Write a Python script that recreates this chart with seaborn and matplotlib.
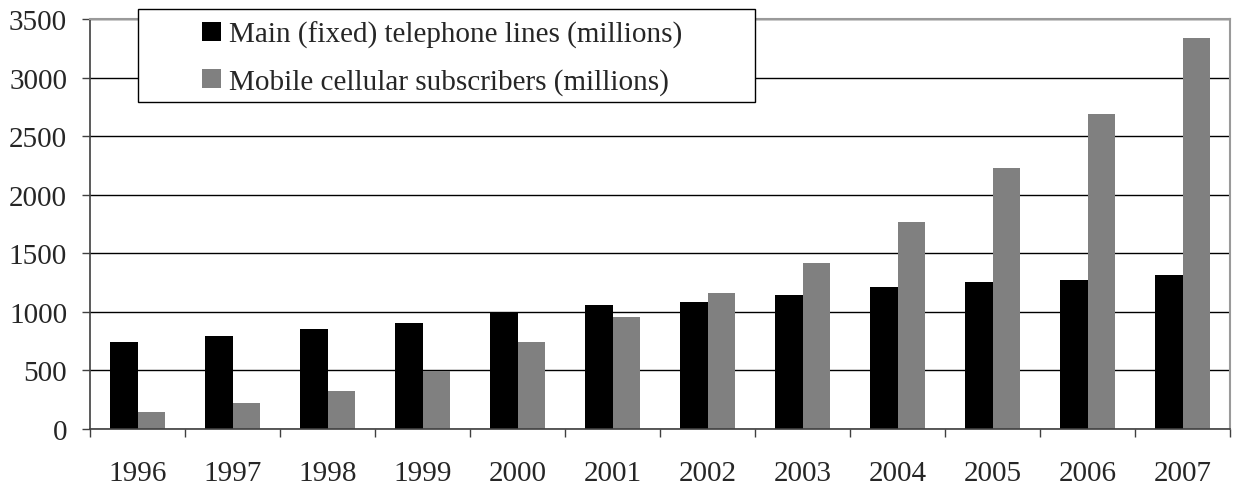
import matplotlib
matplotlib.use("Agg")
import matplotlib.pyplot as plt
import seaborn as sns
import pandas as pd
import numpy as np
from matplotlib.patches import Rectangle, Patch

# data (millions)
years = ['1996', '1997', '1998', '1999', '2000', '2001',
         '2002', '2003', '2004', '2005', '2006', '2007']
fixed_lines = [741, 792, 852, 903, 990, 1055, 1088, 1140, 1208, 1259, 1268, 1311]
mobile_subs = [143, 220, 322, 495, 740, 953, 1165, 1413, 1763, 2225, 2687, 3336]
series_names = ['Main (fixed) telephone lines (millions)',
                'Mobile cellular subscribers (millions)']
series_colors = ['#000000', '#808080']
y_ticks = [0, 500, 1000, 1500, 2000, 2500, 3000, 3500]

df = pd.DataFrame({
    'year': years * 2,
    'value': fixed_lines + mobile_subs,
    'series': [series_names[0]] * len(years) + [series_names[1]] * len(years),
})

sns.set_style('white')
plt.rcParams['font.family'] = ['Liberation Serif', 'DejaVu Serif']
FS = 21

W, H = 1233, 485
fig = plt.figure(figsize=(W / 100, H / 100), dpi=100)
ax = fig.add_axes([90 / W, 1 - 430 / H, (1230 - 90) / W, (430 - 20) / H])

sns.barplot(data=df, x='year', y='value', hue='series', order=years,
            hue_order=series_names, palette=series_colors, width=0.58,
            saturation=1, edgecolor='none', linewidth=0, ax=ax, legend=False)

ax.set_xlim(-0.5, len(years) - 0.5)
ax.set_ylim(0, 3500)
ax.set_yticks(y_ticks)
ax.set_yticklabels([str(t) for t in y_ticks])
ax.set_xlabel('')
ax.set_ylabel('')

# ticks at category boundaries, labels at centres
ax.set_xticks(np.arange(-0.5, len(years), 1.0))
ax.set_xticklabels([''] * (len(years) + 1))
ax.set_xticks(np.arange(len(years)), minor=True)
ax.set_xticklabels(years, minor=True)
ax.tick_params(axis='x', which='major', direction='out', length=6, width=1,
               color='#404040', bottom=True)
ax.tick_params(axis='x', which='minor', length=0, pad=22, labelsize=FS)
ax.tick_params(axis='y', direction='out', length=6, width=1, color='#404040',
               left=True, pad=10.5, labelsize=FS)

# horizontal gridlines
ax.yaxis.grid(True, color='#000000', linewidth=1)
ax.set_axisbelow(True)

for side in ['left', 'bottom']:
    ax.spines[side].set_color('#404040')
    ax.spines[side].set_linewidth(1.2)
for side in ['top', 'right']:
    ax.spines[side].set_visible(True)
    ax.spines[side].set_color('#9a9a9a')
    ax.spines[side].set_linewidth(1.5)

# legend box
box = Rectangle((138 / W, 1 - 103 / H), (755 - 138) / W, (103 - 10) / H,
                transform=fig.transFigure, facecolor='white', edgecolor='#000000',
                linewidth=1, zorder=5)
fig.patches.append(box)
handles = [Patch(facecolor=c, edgecolor='none') for c in series_colors]
leg = fig.legend(handles, series_names, loc='upper left',
                 bbox_to_anchor=(202 / W, 1 - 22 / H), frameon=False,
                 fontsize=FS, handlelength=0.65, handleheight=0.65,
                 handletextpad=0.27, labelspacing=0.68, borderpad=0,
                 borderaxespad=0)
leg.set_zorder(6)

fig.savefig('out.png', dpi=100)
